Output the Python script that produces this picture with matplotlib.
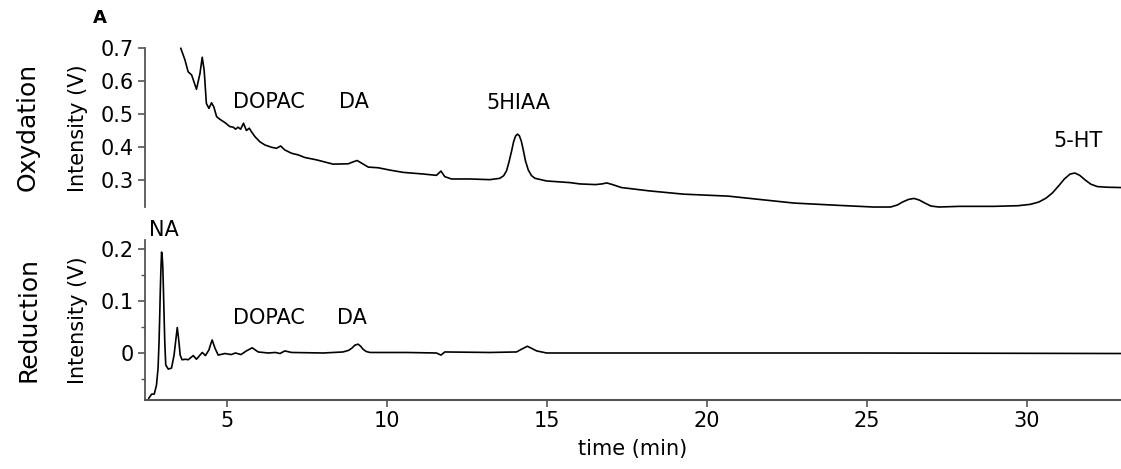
import matplotlib
matplotlib.use("Agg")
import matplotlib.pyplot as plt
from matplotlib.ticker import MultipleLocator

# Oxydation trace (time in min, intensity in V)
ox_time = [3.56, 3.69, 3.79, 3.90, 4.05, 4.16, 4.23, 4.29, 4.36, 4.44, 4.52, 4.59,
           4.68, 4.78, 4.94, 5.09, 5.20, 5.27, 5.35, 5.43, 5.52, 5.61, 5.70, 5.77,
           5.88, 6.03, 6.19, 6.40, 6.55, 6.68, 6.81, 7.02, 7.23, 7.44, 7.80, 8.32,
           8.79, 8.95, 9.07, 9.21, 9.42, 9.73, 10.09, 10.51, 11.14, 11.55, 11.69,
           11.81, 12.02, 12.59, 13.22, 13.53, 13.65, 13.74, 13.82, 13.90, 13.96, 14.02,
           14.08, 14.14, 14.20, 14.26, 14.33, 14.42, 14.52, 14.63, 14.99, 15.72, 16.03,
           16.52, 16.72, 16.87, 17.05, 17.33, 18.19, 19.27, 20.67, 21.64, 22.72, 24.12,
           25.20, 25.74, 25.95, 26.11, 26.30, 26.47, 26.64, 26.81, 27.00, 27.25, 27.89,
           28.97, 29.73, 30.10, 30.37, 30.60, 30.80, 31.00, 31.17, 31.35, 31.50, 31.65,
           31.82, 32.00, 32.20, 32.50, 32.94]
ox_value = [0.699, 0.664, 0.628, 0.618, 0.575, 0.623, 0.672, 0.633, 0.532, 0.517, 0.534, 0.522,
            0.492, 0.484, 0.474, 0.462, 0.460, 0.454, 0.460, 0.454, 0.472, 0.450, 0.457, 0.446,
            0.431, 0.416, 0.406, 0.399, 0.396, 0.403, 0.391, 0.381, 0.376, 0.368, 0.361, 0.348,
            0.349, 0.355, 0.359, 0.351, 0.339, 0.337, 0.330, 0.323, 0.318, 0.314, 0.327,
            0.310, 0.303, 0.303, 0.301, 0.305, 0.313, 0.328, 0.356, 0.389, 0.416, 0.433,
            0.439, 0.434, 0.418, 0.392, 0.358, 0.330, 0.313, 0.305, 0.297, 0.292, 0.288,
            0.286, 0.288, 0.291, 0.286, 0.277, 0.267, 0.257, 0.251, 0.241, 0.230, 0.223,
            0.218, 0.218, 0.224, 0.233, 0.241, 0.244, 0.239, 0.230, 0.221, 0.218, 0.220,
            0.220, 0.222, 0.226, 0.233, 0.245, 0.261, 0.283, 0.303, 0.318, 0.321, 0.314,
            0.300, 0.287, 0.280, 0.278, 0.277]

# Reduction trace
red_time = [2.56, 2.65, 2.73, 2.80, 2.85, 2.88, 2.90, 2.92, 2.94, 2.96, 2.98, 3.00,
            3.02, 3.04, 3.06, 3.09, 3.17, 3.27, 3.35, 3.38, 3.41, 3.45, 3.49, 3.52,
            3.54, 3.60, 3.71, 3.79, 3.95, 4.05, 4.23, 4.33, 4.44, 4.50, 4.54, 4.58,
            4.63, 4.73, 4.94, 5.13, 5.27, 5.44, 5.61, 5.79, 5.98, 6.29, 6.52, 6.66,
            6.81, 7.02, 8.01, 8.63, 8.80, 8.90, 9.00, 9.10, 9.18, 9.26, 9.35, 9.47,
            10.61, 11.55, 11.69, 11.81, 13.22, 14.05, 14.20, 14.39, 14.52, 14.68, 14.99,
            16.34, 25.0, 32.94]
red_value = [-0.087, -0.079, -0.079, -0.062, -0.029, 0.020, 0.067, 0.120, 0.163, 0.194, 0.185, 0.163,
             0.115, 0.067, 0.020, -0.023, -0.031, -0.029, -0.004, 0.012, 0.028, 0.049, 0.028, 0.010,
             -0.004, -0.013, -0.012, -0.013, -0.005, -0.012, 0.001, -0.005, 0.006, 0.018, 0.025, 0.018,
             0.009, -0.004, -0.001, -0.003, 0.000, -0.003, 0.004, 0.010, 0.002, 0.000, 0.001, -0.001,
             0.004, 0.001, 0.000, 0.002, 0.005, 0.009, 0.015, 0.017, 0.013, 0.007, 0.003, 0.001,
             0.001, 0.000, -0.004, 0.002, 0.001, 0.002, 0.007, 0.013, 0.009, 0.004, 0.000,
             0.000, 0.000, -0.001]

ox_ticks = [0.3, 0.4, 0.5, 0.6, 0.7]
red_ticks = [0, 0.1, 0.2]
red_ticklabels = ["0", "0.1", "0.2"]
time_ticks = [5, 10, 15, 20, 25, 30]

# peak labels: (text, time, intensity)
ox_peaks = [("DOPAC", 6.3, 0.536), ("DA", 8.97, 0.536), ("5HIAA", 14.1, 0.533), ("5-HT", 31.6, 0.418)]
red_peaks = [("NA", 3.03, 0.237), ("DOPAC", 6.3, 0.067), ("DA", 8.9, 0.067)]

spine_col = "#555555"

fig = plt.figure(figsize=(11.21, 4.69), dpi=100)
ax1 = fig.add_axes([0.1293, 0.5586, 0.8707, 0.3390])
ax2 = fig.add_axes([0.1293, 0.1471, 0.8707, 0.3412])

for ax in (ax1, ax2):
    ax.spines["top"].set_visible(False)
    ax.spines["right"].set_visible(False)
    ax.spines["left"].set_color(spine_col)
    ax.spines["bottom"].set_color(spine_col)
    ax.spines["left"].set_linewidth(1.3)
    ax.spines["bottom"].set_linewidth(1.5)
    ax.set_xlim(2.44, 32.94)
    ax.tick_params(axis="both", which="major", direction="out", length=5, width=1.2,
                   color=spine_col, labelsize=15, pad=3)
    ax.tick_params(axis="both", which="minor", direction="out", length=3, width=1.0,
                   color=spine_col)

# top panel: oxydation
ax1.plot(ox_time, ox_value, color="black", linewidth=1.2, clip_on=False)
ax1.set_ylim(0.218, 0.7)
ax1.set_yticks(ox_ticks)
ax1.spines["bottom"].set_visible(False)
ax1.tick_params(axis="x", which="both", bottom=False, labelbottom=False)
for name, t, v in ox_peaks:
    ax1.text(t, v, name, fontsize=15, ha="center", va="center")

# bottom panel: reduction
ax2.plot(red_time, red_value, color="black", linewidth=1.2, clip_on=False)
ax2.set_ylim(-0.0904, 0.2173)
ax2.set_yticks(red_ticks)
ax2.set_yticklabels(red_ticklabels)
ax2.yaxis.set_minor_locator(MultipleLocator(0.05))
ax2.set_xticks(time_ticks)
ax2.set_xlabel("time (min)", fontsize=15, labelpad=6)
for name, t, v in red_peaks:
    ax2.text(t, v, name, fontsize=15, ha="center", va="center", clip_on=False)

fig.text(0.025, 0.729, "Oxydation", rotation=90, fontsize=18, ha="center", va="center")
fig.text(0.0696, 0.726, "Intensity (V)", rotation=90, fontsize=15, ha="center", va="center")
fig.text(0.025, 0.318, "Reduction", rotation=90, fontsize=18, ha="center", va="center")
fig.text(0.0696, 0.318, "Intensity (V)", rotation=90, fontsize=15, ha="center", va="center")
fig.text(0.089, 0.962, "A", fontsize=13, fontweight="bold", ha="center", va="center")

fig.savefig("out.png", dpi=100)
